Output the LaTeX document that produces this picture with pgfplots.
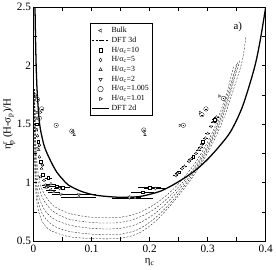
\documentclass[border=0pt]{standalone}
\usepackage{fontspec}
\setmainfont{Liberation Serif}
\usepackage{amsmath}
\usepackage{pgfplots}
\pgfplotsset{compat=1.18}
\pgfplotsset{dp/.style={forget plot, only marks, black, line width=0.3pt,
  error bars/x dir=both, error bars/x explicit, error bars/error mark=none,
  error bars/error bar style={line width=0.3pt, black}}}
\begin{document}
\begin{tikzpicture}
\begin{axis}[
  scale only axis, width=236bp, height=238bp,
  xmin=0, xmax=0.4, ymin=0.5, ymax=2.5,
  xtick={0,0.1,0.2,0.3,0.4},
  minor xtick={0.05,0.15,0.25,0.35},
  ytick={0.5,1,1.5,2,2.5},
  minor ytick={0.75,1.25,1.75,2.25},
  xticklabels={0,0.1,0.2,0.3,0.4},
  yticklabels={0.5,1,1.5,2,2.5},
  tick align=inside, ticks=both,
  major tick length=4pt, minor tick length=4pt,
  tick style={black, line width=0.5pt},
  axis line style={line width=0.6pt},
  tick label style={font=\fontsize{11.5}{12}\selectfont},
  yticklabel style={xshift=1pt},
  /pgf/number format/assume math mode=true,
  xlabel={η\textsubscript{c}},
  ylabel={$\text{η}^{\text{r}}_{\text{p}}\,\text{(H-σ\textsubscript{p})/H}$},
  label style={font=\fontsize{11}{11}\selectfont},
  xlabel style={yshift=0.5pt},
  ylabel style={yshift=-5pt},
  legend style={at={(axis cs:0.097,2.36)}, anchor=north west, draw=black, line width=0.4pt,
    font=\fontsize{8}{9}\selectfont, row sep=-0.9pt, inner sep=1.5pt,
    legend cell align=left},
  clip=true,
]
% legend images
\addlegendimage{only marks, mark=triangle*, mark options={rotate=90, fill=white, draw=black, scale=1}}
\addlegendentry{Bulk}
\addlegendimage{dash pattern=on 2pt off 1.5pt, line width=0.35pt, black}
\addlegendentry{DFT 3d}
\addlegendimage{only marks, mark=square*, mark options={fill=white, draw=black, scale=0.9}}
\addlegendentry{H/σ\textsubscript{c}=10}
\addlegendimage{only marks, mark=diamond*, mark options={fill=white, draw=black, scale=1}}
\addlegendentry{H/σ\textsubscript{c}=5}
\addlegendimage{only marks, mark=triangle*, mark options={fill=white, draw=black, scale=1}}
\addlegendentry{H/σ\textsubscript{c}=3}
\addlegendimage{only marks, mark=triangle*, mark options={rotate=180, fill=white, draw=black, scale=1}}
\addlegendentry{H/σ\textsubscript{c}=2}
\addlegendimage{only marks, mark=o, mark options={draw=black, scale=1.4}}
\addlegendentry{H/σ\textsubscript{c}=1.005}
\addlegendimage{only marks, mark=triangle*, mark options={rotate=-90, fill=white, draw=black, scale=1}}
\addlegendentry{H/σ\textsubscript{c}=1.01}
\addlegendimage{line width=1.4pt, black}
\addlegendentry{DFT 2d}

% DFT 3d dashed curves
\pgfplotsset{dft3/.style={forget plot, dash pattern=on 2pt off 1.5pt, line width=0.3pt, black, smooth}}
\addplot[dft3] coordinates {
(0.002,1.8)(0.004,1.35)(0.007,1.12)(0.012,0.98)(0.02,0.89)(0.035,0.8)(0.06,0.74)(0.09,0.71)(0.12,0.70)(0.15,0.705)(0.18,0.74)(0.21,0.82)(0.24,0.94)(0.27,1.11)(0.29,1.26)(0.31,1.45)(0.33,1.72)(0.34,1.9)(0.345,2.0)};
\addplot[dft3] coordinates {
(0.0018,1.8)(0.0035,1.3)(0.006,1.07)(0.011,0.93)(0.02,0.83)(0.035,0.75)(0.06,0.69)(0.09,0.665)(0.12,0.655)(0.15,0.66)(0.18,0.7)(0.21,0.78)(0.24,0.91)(0.27,1.08)(0.29,1.23)(0.31,1.42)(0.33,1.68)(0.345,1.93)(0.35,2.02)};
\addplot[dft3] coordinates {
(0.0015,1.8)(0.003,1.25)(0.005,1.02)(0.01,0.87)(0.02,0.76)(0.035,0.69)(0.06,0.64)(0.09,0.615)(0.12,0.605)(0.15,0.61)(0.18,0.65)(0.21,0.74)(0.24,0.88)(0.27,1.06)(0.29,1.21)(0.31,1.4)(0.33,1.65)(0.345,1.9)(0.352,2.03)};
\addplot[dft3] coordinates {
(0.0012,1.8)(0.0025,1.2)(0.0045,0.97)(0.009,0.82)(0.018,0.71)(0.035,0.63)(0.06,0.585)(0.09,0.565)(0.12,0.555)(0.15,0.56)(0.18,0.6)(0.21,0.7)(0.24,0.85)(0.27,1.04)(0.29,1.19)(0.31,1.38)(0.33,1.62)(0.35,1.95)(0.356,2.05)};
\addplot[dft3] coordinates {
(0.001,1.8)(0.002,1.15)(0.004,0.92)(0.008,0.77)(0.016,0.66)(0.03,0.59)(0.06,0.54)(0.09,0.525)(0.12,0.52)(0.15,0.525)(0.18,0.565)(0.21,0.67)(0.24,0.83)(0.27,1.02)(0.29,1.17)(0.31,1.35)(0.33,1.58)(0.35,1.88)(0.36,2.05)(0.366,2.25)};

% DFT 2d solid
\addplot[forget plot, line width=1.3pt, black, smooth] coordinates {
(0.0025,2.5)(0.004,2.1)(0.006,1.8)(0.01,1.52)(0.015,1.38)(0.02,1.29)(0.03,1.18)(0.04,1.09)(0.05,1.03)(0.06,0.98)(0.08,0.93)(0.1,0.9)(0.12,0.885)(0.15,0.875)(0.18,0.88)(0.2,0.9)(0.22,0.93)(0.24,0.98)(0.26,1.04)(0.28,1.11)(0.3,1.2)(0.32,1.31)(0.34,1.44)(0.36,1.65)(0.38,1.97)(0.39,2.2)(0.4,2.5)};

% Bulk
\addplot[dp, mark=triangle*, mark options={rotate=90, fill=white, draw=black, scale=0.8}] coordinates {
(0.005,1.73) +- (0.001,0) (0.006,1.45) +- (0.001,0) (0.008,1.3) +- (0.002,0) (0.012,1.05) +- (0.003,0)
(0.02,0.98) +- (0.005,0) (0.03,0.94) +- (0.008,0) (0.165,0.88) +- (0.02,0) (0.245,1.06) +- (0.004,0)
(0.27,1.2) +- (0.004,0) (0.29,1.33) +- (0.004,0) (0.31,1.52) +- (0.004,0)};
% H=10
\addplot[dp, mark=square*, mark options={fill=white, draw=black, scale=0.7}] coordinates {
(0.006,1.5) +- (0.001,0) (0.008,1.35) +- (0.002,0) (0.012,1.18) +- (0.003,0) (0.016,1.07) +- (0.004,0)
(0.025,1.04) +- (0.006,0) (0.04,0.97) +- (0.01,0) (0.05,0.96) +- (0.012,0) (0.2,0.96) +- (0.02,0)
(0.188,0.92) +- (0.02,0) (0.25,1.09) +- (0.004,0) (0.275,1.22) +- (0.004,0) (0.292,1.35) +- (0.004,0) (0.312,1.54) +- (0.004,0)};
% H=5
\addplot[dp, mark=diamond*, mark options={fill=white, draw=black, scale=0.8}] coordinates {
(0.004,1.55) +- (0.001,0) (0.007,1.4) +- (0.002,0) (0.01,1.22) +- (0.003,0) (0.018,1.02) +- (0.004,0)
(0.03,0.99) +- (0.008,0) (0.045,0.95) +- (0.01,0) (0.21,0.95) +- (0.02,0) (0.068,1.44) +- (0.002,0) (0.19,1.44) +- (0.002,0)
(0.256,1.12) +- (0.004,0) (0.28,1.25) +- (0.004,0) (0.296,1.38) +- (0.004,0) (0.315,1.56) +- (0.004,0)};
% H=3
\addplot[dp, mark=triangle*, mark options={fill=white, draw=black, scale=0.8}] coordinates {
(0.005,1.45) +- (0.001,0) (0.009,1.28) +- (0.002,0) (0.014,1.12) +- (0.003,0) (0.022,0.96) +- (0.005,0)
(0.035,0.92) +- (0.01,0) (0.078,0.88) +- (0.03,0) (0.07,1.41) +- (0.002,0) (0.192,1.41) +- (0.002,0) (0.175,0.87) +- (0.03,0)
(0.26,1.14) +- (0.004,0) (0.284,1.28) +- (0.004,0) (0.3,1.42) +- (0.004,0)};
% H=2
\addplot[dp, mark=triangle*, mark options={rotate=180, fill=white, draw=black, scale=0.8}] coordinates {
(0.006,1.6) +- (0.001,0) (0.01,1.32) +- (0.002,0) (0.015,1.15) +- (0.003,0) (0.025,0.97) +- (0.006,0)
(0.047,0.9) +- (0.015,0) (0.078,0.9) +- (0.03,0) (0.165,0.87) +- (0.03,0)
(0.248,1.08) +- (0.004,0) (0.268,1.18) +- (0.004,0) (0.288,1.3) +- (0.004,0) (0.306,1.48) +- (0.004,0)};
% H=1.005
\addplot[dp, mark=o, mark options={draw=black, scale=1.15}] coordinates {
(0.007,1.71) +- (0.001,0) (0.014,1.63) +- (0.001,0) (0.01,1.55) +- (0.001,0) (0.039,1.49) +- (0.001,0)
(0.066,1.44) +- (0.001,0) (0.19,1.45) +- (0.001,0) (0.258,1.49) +- (0.001,0) (0.29,1.58) +- (0.001,0)
(0.297,1.63) +- (0.001,0) (0.327,1.72) +- (0.001,0)};
% H=1.01
\addplot[dp, mark=triangle*, mark options={rotate=-90, fill=white, draw=black, scale=0.8}] coordinates {
(0.004,1.75) +- (0.001,0) (0.012,1.6) +- (0.001,0) (0.252,1.49) +- (0.001,0) (0.32,1.74) +- (0.001,0) (0.287,1.6) +- (0.001,0)};

\node[font=\fontsize{11}{11}\selectfont] at (axis cs:0.352,2.33) {a)};
\end{axis}
\end{tikzpicture}
\end{document}
